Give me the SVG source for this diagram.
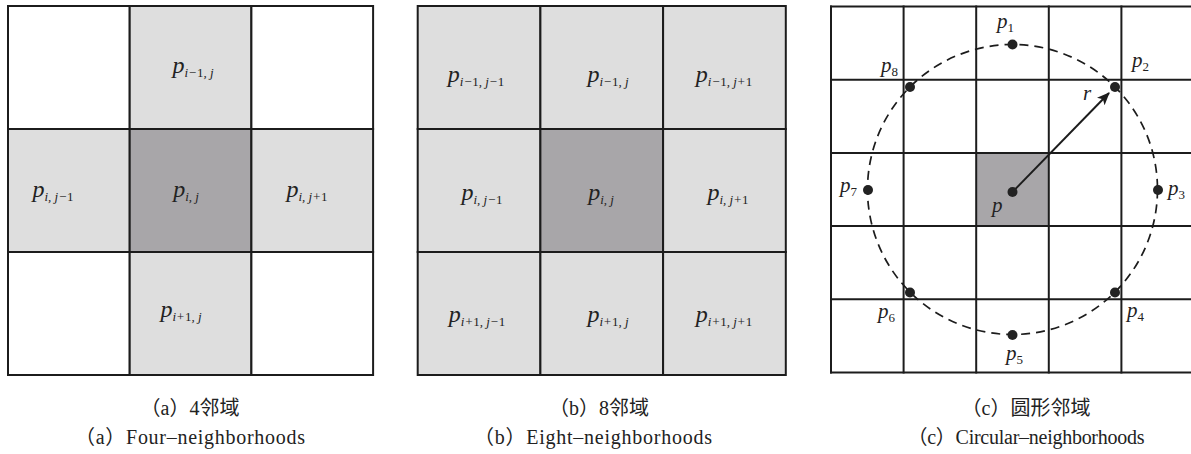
<svg xmlns="http://www.w3.org/2000/svg" width="1191" height="454" viewBox="0 0 1191 454">
  <style>
    .cell { stroke: #1c1c1c; stroke-width: 2; }
    .w { fill: #ffffff; }
    .lt { fill: #dedede; }
    .dk { fill: #a8a6a9; }
    .lbl { font-family: 'Liberation Serif', 'Times New Roman', 'DejaVu Serif', serif; font-style: italic; font-size: 24px; fill: #222; }
    .lbl2 { font-family: 'Liberation Serif', 'Times New Roman', 'DejaVu Serif', serif; font-style: italic; font-size: 21px; fill: #222; }
    .sub { font-size: 13px; }
    .n { font-style: normal; }
    .grid { stroke: #1c1c1c; stroke-width: 2; fill: none; }
    .cap { font-family: 'Liberation Serif', 'Times New Roman', 'Noto Sans CJK SC', serif; font-size: 20px; fill: #222; text-anchor: middle; }
    .dot { fill: #222; }
  </style>
  <defs>
    <marker id="arrow" viewBox="0 0 12 10" refX="11" refY="5" markerWidth="13" markerHeight="11" markerUnits="userSpaceOnUse" orient="auto">
      <path d="M0,0 L12,5 L0,10 L3,5 z" fill="#1c1c1c"/>
    </marker>
  </defs>

  <!-- (a) four-neighbourhood grid -->
  <g id="panel-a">
    <g id="a-00"><rect class="cell w" x="8" y="6" width="121.7" height="123"/></g>
    <g id="a-01"><rect class="cell lt" x="129.7" y="6" width="121.7" height="123"/>
      <text class="lbl" x="193" y="73" text-anchor="middle">p<tspan class="sub" dy="4">i−<tspan class="n">1</tspan>, j</tspan></text></g>
    <g id="a-02"><rect class="cell w" x="251.4" y="6" width="121.7" height="123"/></g>
    <g id="a-10"><rect class="cell lt" x="8" y="129" width="121.7" height="123"/>
      <text class="lbl" x="53" y="197" text-anchor="middle">p<tspan class="sub" dy="4">i, j−<tspan class="n">1</tspan></tspan></text></g>
    <g id="a-11"><rect class="cell dk" x="129.7" y="129" width="121.7" height="123"/>
      <text class="lbl" x="186" y="197" text-anchor="middle">p<tspan class="sub" dy="4">i, j</tspan></text></g>
    <g id="a-12"><rect class="cell lt" x="251.4" y="129" width="121.7" height="123"/>
      <text class="lbl" x="307" y="197" text-anchor="middle">p<tspan class="sub" dy="4">i, j+<tspan class="n">1</tspan></tspan></text></g>
    <g id="a-20"><rect class="cell w" x="8" y="252" width="121.7" height="123"/></g>
    <g id="a-21"><rect class="cell lt" x="129.7" y="252" width="121.7" height="123"/>
      <text class="lbl" x="181" y="317" text-anchor="middle">p<tspan class="sub" dy="4">i+<tspan class="n">1</tspan>, j</tspan></text></g>
    <g id="a-22"><rect class="cell w" x="251.4" y="252" width="121.7" height="123"/></g>
    <g id="a-caption">
      <text class="cap" x="190" y="415">（a）4邻域</text>
      <text class="cap" x="190" y="444" textLength="230" lengthAdjust="spacing">（a）Four–neighborhoods</text>
    </g>
  </g>

  <!-- (b) eight-neighbourhood grid -->
  <g id="panel-b">
    <g id="b-00"><rect class="cell lt" x="417.7" y="6" width="122.7" height="123"/>
      <text class="lbl" x="476" y="82" text-anchor="middle">p<tspan class="sub" dy="4">i−<tspan class="n">1</tspan>, j−<tspan class="n">1</tspan></tspan></text></g>
    <g id="b-01"><rect class="cell lt" x="540.4" y="6" width="122.7" height="123"/>
      <text class="lbl" x="608" y="82" text-anchor="middle">p<tspan class="sub" dy="4">i−<tspan class="n">1</tspan>, j</tspan></text></g>
    <g id="b-02"><rect class="cell lt" x="663.1" y="6" width="122.7" height="123"/>
      <text class="lbl" x="724" y="82" text-anchor="middle">p<tspan class="sub" dy="4">i−<tspan class="n">1</tspan>, j+<tspan class="n">1</tspan></tspan></text></g>
    <g id="b-10"><rect class="cell lt" x="417.7" y="129" width="122.7" height="123"/>
      <text class="lbl" x="482" y="200" text-anchor="middle">p<tspan class="sub" dy="4">i, j−<tspan class="n">1</tspan></tspan></text></g>
    <g id="b-11"><rect class="cell dk" x="540.4" y="129" width="122.7" height="123"/>
      <text class="lbl" x="601" y="200" text-anchor="middle">p<tspan class="sub" dy="4">i, j</tspan></text></g>
    <g id="b-12"><rect class="cell lt" x="663.1" y="129" width="122.7" height="123"/>
      <text class="lbl" x="728" y="200" text-anchor="middle">p<tspan class="sub" dy="4">i, j+<tspan class="n">1</tspan></tspan></text></g>
    <g id="b-20"><rect class="cell lt" x="417.7" y="252" width="122.7" height="123"/>
      <text class="lbl" x="477" y="322" text-anchor="middle">p<tspan class="sub" dy="4">i+<tspan class="n">1</tspan>, j−<tspan class="n">1</tspan></tspan></text></g>
    <g id="b-21"><rect class="cell lt" x="540.4" y="252" width="122.7" height="123"/>
      <text class="lbl" x="608" y="322" text-anchor="middle">p<tspan class="sub" dy="4">i+<tspan class="n">1</tspan>, j</tspan></text></g>
    <g id="b-22"><rect class="cell lt" x="663.1" y="252" width="122.7" height="123"/>
      <text class="lbl" x="724" y="322" text-anchor="middle">p<tspan class="sub" dy="4">i+<tspan class="n">1</tspan>, j+<tspan class="n">1</tspan></tspan></text></g>
    <g id="b-caption">
      <text class="cap" x="599" y="415">（b）8邻域</text>
      <text class="cap" x="593" y="444" textLength="238" lengthAdjust="spacing">（b）Eight–neighborhoods</text>
    </g>
  </g>

  <!-- (c) circular neighbourhood -->
  <g id="panel-c">
    <g id="c-center"><rect class="dk" x="976.2" y="152.9" width="72.6" height="73.2"/></g>
    <g id="c-grid" class="grid">
      <line x1="831" y1="5.5" x2="831" y2="373.5"/>
      <line x1="903.6" y1="5.5" x2="903.6" y2="373.5"/>
      <line x1="976.2" y1="5.5" x2="976.2" y2="373.5"/>
      <line x1="1048.8" y1="5.5" x2="1048.8" y2="373.5"/>
      <line x1="1121.4" y1="5.5" x2="1121.4" y2="373.5"/>
      <line x1="830" y1="6.5" x2="1195" y2="6.5"/>
      <line x1="830" y1="79.7" x2="1195" y2="79.7"/>
      <line x1="830" y1="152.9" x2="1195" y2="152.9"/>
      <line x1="830" y1="226.1" x2="1195" y2="226.1"/>
      <line x1="830" y1="299.3" x2="1195" y2="299.3"/>
      <line x1="830" y1="372.5" x2="1195" y2="372.5"/>
    </g>
    <g id="connectors">
      <circle cx="1012.5" cy="189.5" r="145" fill="none" stroke="#1c1c1c" stroke-width="1.7" stroke-dasharray="9 6"/>
      <line x1="1012.5" y1="192" x2="1109" y2="93" stroke="#1c1c1c" stroke-width="2" marker-end="url(#arrow)"/>
    </g>
    <g id="c-p"><circle class="dot" cx="1012.5" cy="192" r="5"/>
      <text class="lbl2" x="992" y="212">p</text></g>
    <g id="c-p1"><circle class="dot" cx="1012.5" cy="44.5" r="5"/>
      <text class="lbl2" x="997" y="28">p<tspan class="sub n" dy="4">1</tspan></text></g>
    <g id="c-p2"><circle class="dot" cx="1115" cy="87" r="5"/>
      <text class="lbl2" x="1132" y="67">p<tspan class="sub n" dy="4">2</tspan></text></g>
    <g id="c-p3"><circle class="dot" cx="1158" cy="190" r="5"/>
      <text class="lbl2" x="1168" y="195">p<tspan class="sub n" dy="4">3</tspan></text></g>
    <g id="c-p4"><circle class="dot" cx="1115" cy="292.5" r="5"/>
      <text class="lbl2" x="1127" y="317">p<tspan class="sub n" dy="4">4</tspan></text></g>
    <g id="c-p5"><circle class="dot" cx="1012.5" cy="335" r="5"/>
      <text class="lbl2" x="1006" y="360">p<tspan class="sub n" dy="4">5</tspan></text></g>
    <g id="c-p6"><circle class="dot" cx="910" cy="292.5" r="5"/>
      <text class="lbl2" x="878" y="318">p<tspan class="sub n" dy="4">6</tspan></text></g>
    <g id="c-p7"><circle class="dot" cx="868" cy="190" r="5"/>
      <text class="lbl2" x="840" y="192">p<tspan class="sub n" dy="4">7</tspan></text></g>
    <g id="c-p8"><circle class="dot" cx="910" cy="87" r="5"/>
      <text class="lbl2" x="881" y="72">p<tspan class="sub n" dy="4">8</tspan></text></g>
    <g id="c-r"><text class="lbl2" x="1083" y="100">r</text></g>
    <g id="c-caption">
      <text class="cap" x="1026" y="415">（c）圆形邻域</text>
      <text class="cap" x="1026" y="444" textLength="237" lengthAdjust="spacing">（c）Circular–neighborhoods</text>
    </g>
  </g>
</svg>
